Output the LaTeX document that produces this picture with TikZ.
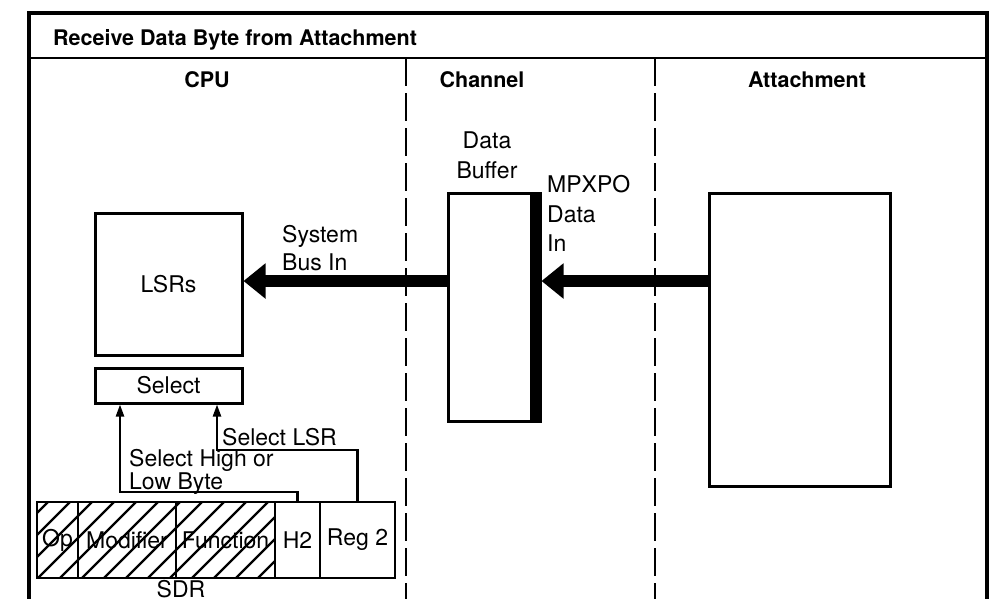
\documentclass[tikz,border=0pt]{standalone}
\usepackage{fontspec}
\setmainfont{TeX Gyre Heros}
\usetikzlibrary{arrows.meta}
\newcommand\myfs{\fontsize{23}{28}\selectfont}
\newcommand\myhd{\fontsize{21.5}{26}\selectfont\bfseries}
\begin{document}
\begin{tikzpicture}[x=1pt,y=-1pt,
  box/.style={draw,line width=3pt,inner sep=0pt,font=\myfs},
  cell/.style={draw,line width=2.4pt,minimum height=76pt,inner sep=0pt,font=\myfs},
  lbl/.style={anchor=base west,inner sep=0pt,font=\myfs},
  lblc/.style={anchor=base,inner sep=0pt,font=\myfs},
  hd/.style={anchor=base,inner sep=0pt,font=\myhd},
  bus/.style={line width=11.5pt,-{Triangle[length=22pt,width=34pt]}},
  sel/.style={line width=2.2pt,-{Triangle[length=12pt,width=8pt]}},
  dashline/.style={line width=2.8pt,dash pattern=on 28pt off 7pt},
  hatch/.style={line width=2.2pt}]
\useasboundingbox (0,0) rectangle (990,598);
\clip (0,0) rectangle (990,598);
% frame
\draw[line width=3.2pt] (29,620) -- (29,13) -- (987,13) -- (987,620);
\draw[line width=2.8pt] (29,58) -- (987,58);
\node[anchor=base west,inner sep=0pt,font=\myhd] (title) at (53,45) {Receive Data Byte from Attachment};
% column separators
\draw[dashline] (406,58) -- (406,620);
\draw[dashline] (655,58) -- (655,620);
% headers
\node[hd] (hcpu) at (207,87) {CPU};
\node[hd] (hch) at (482,87) {Channel};
\node[hd] (hatt) at (807,87) {Attachment};
% CPU boxes
\node[box,minimum width=147pt,minimum height=142pt] (lsr) at (168.5,284) {LSRs};
\node[box,minimum width=147pt,minimum height=35pt] (sel) at (168.5,385.5) {Select};
% channel data buffer
\node[box,minimum width=92pt,minimum height=228pt] (buf) at (494,307) {};
\fill ([xshift=-12pt]buf.north east) rectangle (buf.south east);
\node[lblc] (bufl1) at (487,148) {Data};
\node[lblc] (bufl2) at (487,178) {Buffer};
% attachment
\node[box,minimum width=181pt,minimum height=293pt] (att) at (799.5,339.5) {};
% buses
\coordinate (busy) at (0,281);
\draw[bus] (att.west |- busy) -- (buf.east |- busy);
\draw[bus] (buf.west |- busy) -- (lsr.east |- busy);
\node[lbl] (mp1) at (547,192) {MPXPO};
\node[lbl] (mp2) at (547,222) {Data};
\node[lbl] (mp3) at (547,251) {In};
\node[lbl] (sb1) at (282,242) {System};
\node[lbl] (sb2) at (282,270) {Bus In};
% SDR hatching
\begin{scope}
\clip (37,502) rectangle (275,578);
\foreach \i in {0,...,16} \draw[hatch] ({-50+22*\i},578) -- ++(76,-76);
\end{scope}
% SDR cells
\node[cell,minimum width=41pt] (op) at (57.5,540) {Op};
\node[cell,minimum width=98pt] (mod) at (127,540) {Modifier};
\node[cell,minimum width=99pt] (fun) at (225.5,540) {Function};
\node[cell,minimum width=45pt] (h2) at (297.5,540) {H2};
\node[cell,minimum width=75pt] (reg2) at (357.5,540) {Reg 2};
\node[lblc] (sdr) at (181,597) {SDR};
% select lines
\coordinate (j1) at (120,492);
\coordinate (j2) at (217,450);
\draw[sel] (h2.north) |- (j1) -- (j1 |- sel.south);
\draw[sel] (reg2.north) |- (j2) -- (j2 |- sel.south);
\node[lbl] (sl1) at (222,445) {Select LSR};
\node[lbl] (sh1) at (129,466) {Select High or};
\node[lbl] (sh2) at (129,489) {Low Byte};
\end{tikzpicture}
\end{document}
